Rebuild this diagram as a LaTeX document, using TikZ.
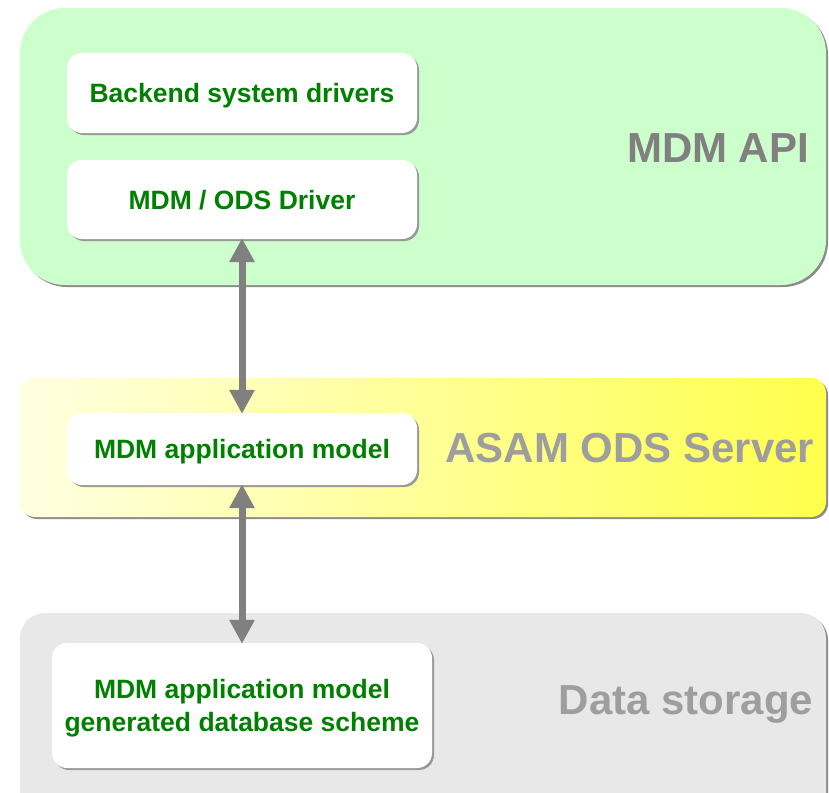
\documentclass[tikz,border=0pt]{standalone}
\usepackage{fontspec}
\setmainfont{Liberation Sans}
\usepackage{xcolor}
\usepackage{tikz}
\usetikzlibrary{shadows,arrows.meta}

\definecolor{apigreen}{HTML}{CCFFCC}
\definecolor{storegray}{HTML}{E8E8E8}
\definecolor{textgreen}{HTML}{008000}
\definecolor{labelgray}{HTML}{808080}

\begin{document}
\begin{tikzpicture}[x=1pt,y=-1pt,
		panel/.style={drop shadow={shadow xshift=2pt,shadow yshift=-2pt,fill=black!45,opacity=1}},
		layer/.style={font=\bfseries\fontsize{42}{48}\selectfont,text=labelgray},
		unit/.style={fill=white,rounded corners=15pt,align=center,text=textgreen,
			font=\bfseries\fontsize{26.5}{33}\selectfont,inner sep=0pt,text depth=0pt,
			drop shadow={shadow xshift=2pt,shadow yshift=-2pt,fill=black!40,opacity=1}},
		link/.style={line width=7pt,labelgray,{Triangle[width=24pt,length=24pt]}-{Triangle[width=24pt,length=24pt]},shorten <=-1pt,shorten >=-1pt}]
				\useasboundingbox (0,0) rectangle (829,792);
				% layers
				\path[panel,fill=apigreen,rounded corners=45pt] (20,8) rectangle (826,285);
				\path[panel,rounded corners=15pt,left color=yellow!12,right color=yellow!70] (20,378) rectangle (826,517);
				\begin{scope}
					\clip (0,0) rectangle (829,792);
					\path[panel,fill=storegray,rounded corners=25pt] (20,613) rectangle (826,820);
				\end{scope}
				\node[layer] (api) at (718,148) {MDM API};
				\node[layer,text=black!38] (ods) at (630,448) {ASAM ODS Server};
				\node[layer,text=black!38] (store) at (686,704) {Data storage};
				% units
				\node[unit,minimum width=350pt,minimum height=80pt] (backend) at (242,93) {Backend system drivers};
				\node[unit,minimum width=350pt,minimum height=79pt] (driver) at (242,199.5) {MDM / ODS Driver};
				\node[unit,minimum width=350pt,minimum height=72pt] (model) at (242,449) {MDM application model};
				\node[unit,minimum width=380pt,minimum height=125pt] (scheme) at (242,705.5) {MDM application model\\generated database scheme};
				% links
				\draw[link] (driver.south) -- (model.north);
				\draw[link] (model.south) -- (scheme.north);
			\end{tikzpicture}
\end{document}
